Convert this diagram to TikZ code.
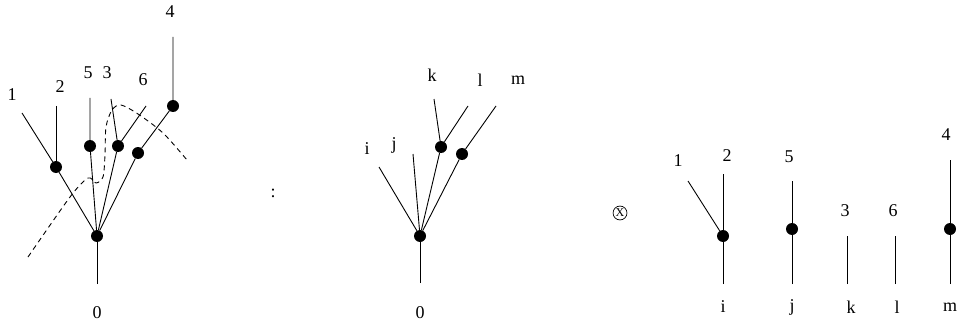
\documentclass[tikz,border=0pt]{standalone}
\usepackage{fontspec}
\setmainfont{Liberation Serif}
\usetikzlibrary{calc}

\begin{document}
\begin{tikzpicture}[x=1pt,y=1pt, every node/.style={font=\fontsize{18}{21}\selectfont},
  dot/.style={circle,fill=black,inner sep=0pt,minimum size=12pt},
  edge/.style={line width=0.9pt,draw=black},
  cut/.style={dashed,line width=0.9pt,dash pattern=on 5pt off 4pt}]
  \useasboundingbox (0,0) rectangle (957,327);
  % first tree
  \node[dot] (a0) at (97,91) {};
  \node[dot] (a12) at (56,160) {};
  \node[dot] (a5) at (90,181) {};
  \node[dot] (a3) at (118,181) {};
  \node[dot] (a6) at (138,174) {};
  \node[dot] (a4) at (173,221) {};
  \coordinate (e0) at (97,43);
  \coordinate (e1) at (22,214);
  \coordinate (e2) at (56,221);
  \coordinate (e5) at (90,229);
  \coordinate (e3) at (111,228);
  \coordinate (e6) at (146,221);
  \coordinate (e4) at (173,290);
  \draw[edge] (e0)--(a0);
  \draw[edge] (e1)--(a12)--(a0);
  \draw[edge] (e2)--(a12);
  \draw[edge] (e5)--(a5)--(a0);
  \draw[edge] (e3)--(a3)--(a0);
  \draw[edge] (e6)--(a3);
  \draw[edge] (e4)--(a4)--(a6)--(a0);
  \node (t0) at (97,14) {0};
  \node (t1) at (12,232) {1};
  \node (t2) at (60,240) {2};
  \node (t5) at (88,254) {5};
  \node (t3) at (107,254) {3};
  \node (t6) at (143,247) {6};
  \node (t4) at (170,315) {4};
  \draw[cut] plot[smooth,tension=0.5] coordinates {(28,70) (70,130) (88,149) (96,144) (103,150) (105,172) (106,200) (112,217) (121,222) (138,213) (163,194) (187,167)};
  \node (colon) at (273,134) {:};
  % second tree
  \node[dot] (b0) at (420,91) {};
  \node[dot] (bk) at (441,180) {};
  \node[dot] (bm) at (462,173) {};
  \coordinate (f0) at (420,44);
  \coordinate (fi) at (379,160);
  \coordinate (fj) at (413,173);
  \coordinate (fk) at (434,228);
  \coordinate (fl) at (468,221);
  \coordinate (fm) at (496,221);
  \draw[edge] (f0)--(b0);
  \draw[edge] (fi)--(b0);
  \draw[edge] (fj)--(b0);
  \draw[edge] (fk)--(bk)--(b0);
  \draw[edge] (fl)--(bk);
  \draw[edge] (fm)--(bm)--(b0);
  \node (s0) at (420,14) {0};
  \node (si) at (367,178) {i};
  \node (sj) at (394,182) {j};
  \node (sk) at (432,252) {k};
  \node (sl) at (480,247) {l};
  \node (sm) at (518,247) {m};
  \node[draw,circle,inner sep=0.8pt,line width=0.7pt,font=\fontsize{12}{14}\selectfont] (tens) at (620,114) {X};
  % forest of corollas
  \node[dot] (ci) at (723,91) {};
  \node[dot] (cj) at (792,98) {};
  \node[dot] (cm) at (950,98) {};
  \coordinate (gi) at (723,43);
  \coordinate (g1) at (688,146);
  \coordinate (g2) at (723,153);
  \coordinate (gj) at (792,43);
  \coordinate (g5) at (792,146);
  \coordinate (gk) at (847,43);
  \coordinate (g3) at (847,91);
  \coordinate (gl) at (895,43);
  \coordinate (g6) at (895,91);
  \coordinate (gm) at (950,43);
  \coordinate (g4) at (950,167);
  \draw[edge] (gi)--(ci)--(g2);
  \draw[edge] (g1)--(ci);
  \draw[edge] (gj)--(cj)--(g5);
  \draw[edge] (gk)--(g3);
  \draw[edge] (gl)--(g6);
  \draw[edge] (gm)--(cm)--(g4);
  \node (u1) at (678,166) {1};
  \node (u2) at (727,171) {2};
  \node (u5) at (789,170) {5};
  \node (u3) at (845,116) {3};
  \node (u6) at (893,116) {6};
  \node (u4) at (946,192) {4};
  \node (ui) at (723,20) {i};
  \node (uj) at (792,20) {j};
  \node (uk) at (851,20) {k};
  \node (ul) at (897,20) {l};
  \node (um) at (950,20) {m};
\end{tikzpicture}
\end{document}
